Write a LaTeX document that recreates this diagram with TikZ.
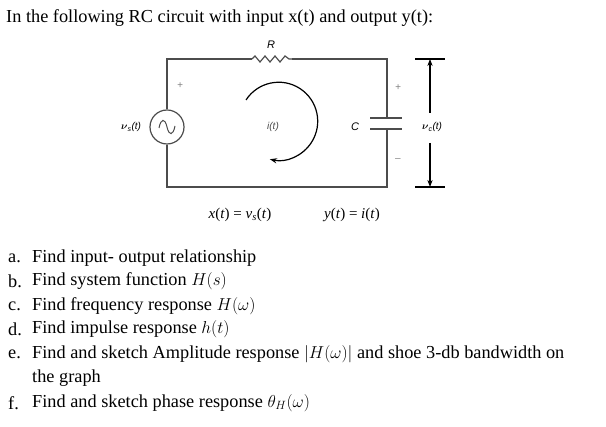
\documentclass[tikz,border=0pt]{standalone}
\usepackage{fontspec}
\setmainfont{Liberation Serif}
\setsansfont{Liberation Sans}
\usepackage{amsmath}
\usetikzlibrary{arrows.meta}
\begin{document}
\begin{tikzpicture}[x=1pt,y=-1pt,
  wire/.style={draw=black!70,line width=1.2pt},
  lbl/.style={font=\sffamily\itshape\fontsize{10}{11}\selectfont,inner sep=0pt},
  txt/.style={font=\fontsize{18.3}{20}\selectfont,anchor=west,inner sep=0pt}]
\useasboundingbox (0,0) rectangle (606,427);
\node[txt] (title) at (6,18) {In the following RC circuit with input x(t) and output y(t):};
% circuit
\coordinate (tl) at (167,59); \coordinate (tr) at (387,59);
\coordinate (bl) at (167,187); \coordinate (br) at (387,187);
\coordinate (r1) at (252,59); \coordinate (r2) at (292,59);
\node[circle,draw=black!70,line width=1.2pt,minimum size=34pt,inner sep=0pt] (src) at (167,127) {};
\draw[black!70,line width=1pt] (159,128) .. controls (161,118) and (165,118) .. (167,127) .. controls (169,136) and (173,136) .. (175,126);
\draw[wire] (src.north) -- (tl) -- (r1);
\draw[wire] (r1) -- ++(3,-3) -- ++(5,6) -- ++(5,-6) -- ++(5,6) -- ++(5,-6) -- ++(5,6) -- ++(5,-6) -- ++(4,3) -- (r2);
\draw[wire] (r2) -- (tr) -- (387,118);
\draw[wire] (370,118) -- (402,118);
\draw[wire] (370,129) -- (402,129);
\draw[wire] (387,129) -- (br) -- (bl) -- (src.south);
\node[lbl,font=\sffamily\itshape\fontsize{11}{12}\selectfont] (R) at (271,45) {R};
\node[lbl,font=\sffamily\itshape\fontsize{11}{12}\selectfont] (C) at (355,127) {C};
\node[lbl,text=black!50] (p1) at (180,86) {+};
\node[lbl,text=black!50] (p2) at (398,88) {+};
\node[lbl,text=black!50] (m2) at (398,160) {--};
\node[lbl] (vs) at (131,127) {$\boldsymbol{\nu}$\textsubscript{s}(t)};
\node[lbl,text=black!70] (it) at (273,127) {i(t)};
% current arc
\draw[black,line width=1.2pt,-{Stealth[length=7pt]}] (246,100) arc[start angle=-147,end angle=103,radius=39];
% vc arrow
\coordinate (a1) at (430,59); \coordinate (a2) at (430,187);
\coordinate (a1s) at (430,113); \coordinate (a2s) at (430,143);
\draw[line width=1.2pt] (415,59) -- (445,59);
\draw[line width=1.2pt] (415,187) -- (445,187);
\node[lbl] (vc) at (432,127) {$\boldsymbol{\nu}$\textsubscript{c}(t)};
\draw[line width=1.1pt,-{Stealth[length=7pt]}] (a1s) -- (a1);
\draw[line width=1.1pt,-{Stealth[length=7pt]}] (a2s) -- (a2);
% equations
\node[font=\fontsize{15}{17}\selectfont] (eq1) at (240,215) {\textit{x}(\textit{t}) = \textit{v}\textsubscript{\textit{s}}(\textit{t})};
\node[font=\fontsize{15}{17}\selectfont] (eq2) at (352,215) {\textit{y}(\textit{t}) = \textit{i}(\textit{t})};
% list
\node[txt] (la) at (8,258) {a.};
\node[txt] (ta) at (32,258) {Find input- output relationship};
\node[txt] (lb) at (8,281) {b.};
\node[txt] (tb) at (32,281) {Find system function $H(s)$};
\node[txt] (lc) at (8,306) {c.};
\node[txt] (tc) at (32,306) {Find frequency response $H(\omega)$};
\node[txt] (ld) at (8,329) {d.};
\node[txt] (td) at (32,329) {Find impulse response $h(t)$};
\node[txt] (le) at (8,354) {e.};
\node[txt] (te) at (32,354) {Find and sketch Amplitude response $|H(\omega)|$ and shoe 3-db bandwidth on};
\node[txt] (te2) at (32,378) {the graph};
\node[txt] (lf) at (8,403) {f.};
\node[txt] (tf) at (32,403) {Find and sketch phase response $\theta_H(\omega)$};
\end{tikzpicture}
\end{document}
